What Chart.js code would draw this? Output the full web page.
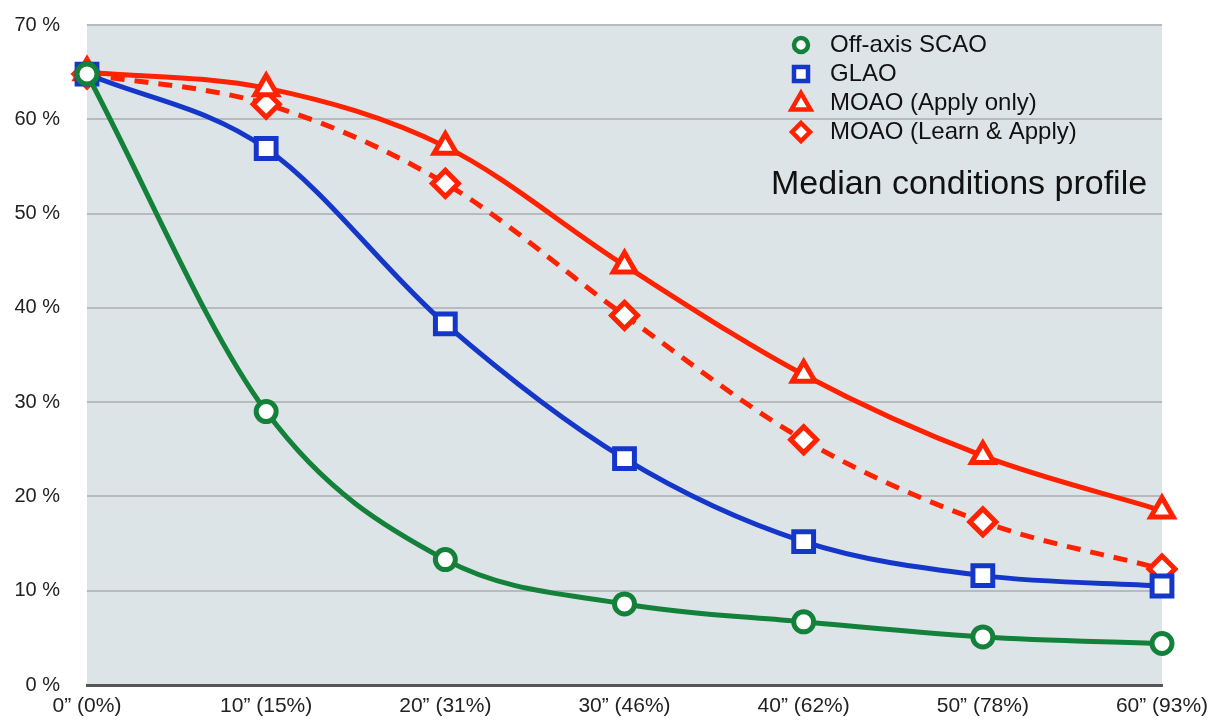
<!DOCTYPE html>
<html>
<head>
<meta charset="utf-8">
<script src="https://cdn.jsdelivr.net/npm/chart.js@4/dist/chart.umd.min.js"></script>
<style>
  html, body { margin: 0; padding: 0; background: #fff; }
  #wrap { width: 1209px; height: 720px; }
</style>
</head>
<body>
<div id="wrap"><canvas id="myChart"></canvas></div>
<script>
const separations = ['0\u201d (0%)', '10\u201d (15%)', '20\u201d (31%)', '30\u201d (46%)', '40\u201d (62%)', '50\u201d (78%)', '60\u201d (93%)'];
const scaoValues = [64.8, 29.0, 13.3, 8.6, 6.7, 5.1, 4.4];
const glaoValues = [64.8, 56.9, 38.3, 24.0, 15.2, 11.6, 10.5];
const moaoApplyValues = [65.0, 63.3, 57.1, 44.5, 32.9, 24.3, 18.5];
const moaoLearnValues = [64.8, 61.6, 53.2, 39.2, 26.0, 17.3, 12.3];
const seriesNames = ['Off-axis SCAO', 'GLAO', 'MOAO (Apply only)', 'MOAO (Learn & Apply)'];
const profileName = 'Median conditions profile';

const FONT = '"Liberation Sans", Arial, Helvetica, sans-serif';
const green = '#13813a';
const blue = '#1537c9';
const red = '#ff2200';

// grey-blue plot background
const plotBackground = {
  id: 'plotBackground',
  beforeDraw(chart) {
    const { ctx, chartArea: a } = chart;
    ctx.save();
    ctx.fillStyle = '#dde4e7';
    ctx.fillRect(a.left, a.top, a.right - a.left, a.bottom - a.top);
    ctx.restore();
  }
};

// legend and caption drawn inside the plot area
const insideLegend = {
  id: 'insideLegend',
  afterDraw(chart) {
    const { ctx } = chart;
    ctx.save();
    ctx.font = '24px ' + FONT;
    ctx.textBaseline = 'middle';
    const rows = [45, 74, 103, 132];
    chart.data.datasets.forEach((ds, i) => {
      const y = rows[i];
      const x = 801;
      ctx.lineWidth = 4.5;
      ctx.strokeStyle = ds.borderColor;
      ctx.fillStyle = '#fff';
      ctx.beginPath();
      if (ds.pointStyle === 'circle') {
        ctx.arc(x, y, 7, 0, Math.PI * 2);
      } else if (ds.pointStyle === 'rect') {
        ctx.rect(x - 7, y - 7, 14, 14);
      } else if (ds.pointStyle === 'triangle') {
        ctx.moveTo(x, y - 10);
        ctx.lineTo(x + 9.5, y + 6.5);
        ctx.lineTo(x - 9.5, y + 6.5);
        ctx.closePath();
      } else {
        ctx.moveTo(x, y - 9);
        ctx.lineTo(x + 9, y);
        ctx.lineTo(x, y + 9);
        ctx.lineTo(x - 9, y);
        ctx.closePath();
      }
      ctx.fill();
      ctx.stroke();
      ctx.fillStyle = '#111';
      ctx.fillText(ds.label, 830, y);
    });
    ctx.font = '34px ' + FONT;
    ctx.fillText(profileName, 771, 185);
    ctx.restore();
  }
};

const ctx = document.getElementById('myChart').getContext('2d');
const myChart = new Chart(ctx, {
  type: 'line',
  data: {
    labels: separations,
    datasets: [
      {
        label: seriesNames[0],
        data: scaoValues,
        borderColor: green,
        pointStyle: 'circle',
        pointRadius: 10,
      },
      {
        label: seriesNames[1],
        data: glaoValues,
        borderColor: blue,
        pointStyle: 'rect',
        pointRadius: 14,
      },
      {
        label: seriesNames[2],
        data: moaoApplyValues,
        borderColor: red,
        pointStyle: 'triangle',
        pointRadius: 13,
      },
      {
        label: seriesNames[3],
        data: moaoLearnValues,
        borderColor: red,
        borderDash: [14, 10],
        pointStyle: 'rectRot',
        pointRadius: 13,
      },
    ].map((ds) => Object.assign(ds, {
      backgroundColor: '#ffffff',
      pointBackgroundColor: '#ffffff',
      pointBorderColor: ds.borderColor,
      pointBorderWidth: 5,
      borderWidth: 5,
      cubicInterpolationMode: 'monotone',
    })),
  },
  options: {
    responsive: true,
    maintainAspectRatio: false,
    animation: false,
    layout: { autoPadding: false, padding: { top: 25, right: 47, left: 0, bottom: 0 } },
    clip: false,
    scales: {
      x: {
        offset: false,
        grid: { display: false, drawTicks: false },
        border: { display: true, color: '#555', width: 3 },
        ticks: {
          color: '#222',
          font: { family: FONT, size: 21 },
          maxRotation: 0,
          autoSkip: false,
          padding: 9,
        },
        afterFit(scale) {
          scale.height = 35;
          scale.paddingLeft = 0;
          scale.paddingRight = 0;
        },
      },
      y: {
        min: 0,
        max: 70,
        grid: { color: '#b7bbbd', lineWidth: 2, drawTicks: false },
        border: { display: false },
        ticks: {
          stepSize: 10,
          color: '#222',
          font: { family: FONT, size: 20 },
          padding: 27,
          callback: (v) => v + ' %',
        },
        afterFit(scale) {
          scale.width = 87;
          scale.paddingTop = 0;
          scale.paddingBottom = 0;
        },
      },
    },
    plugins: {
      legend: { display: false },
      tooltip: { enabled: false },
    },
  },
  plugins: [plotBackground, insideLegend],
});
</script>
</body>
</html>
